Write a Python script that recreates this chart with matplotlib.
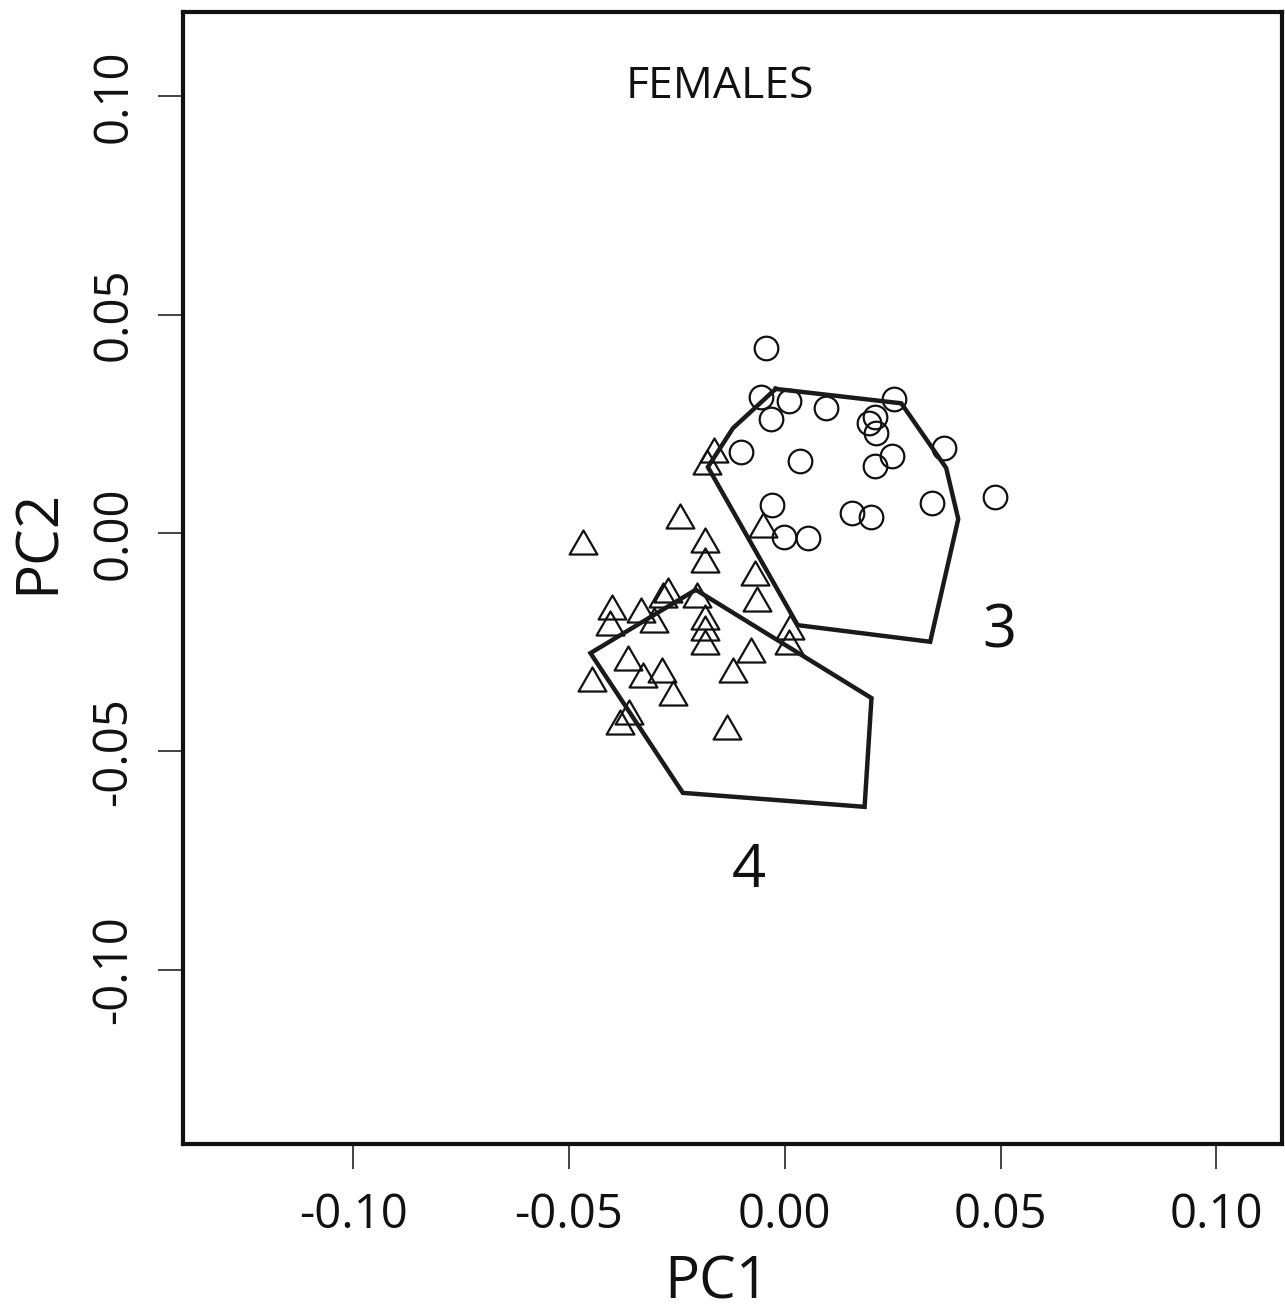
import matplotlib
matplotlib.use("Agg")
import matplotlib.pyplot as plt
from matplotlib.path import Path
import numpy as np

plt.rcParams['font.family'] = ['Open Sans', 'DejaVu Sans']

# Group 3 (circles)
circ_x = [-0.0044, -0.0055, 0.0009, -0.0032, 0.0095, 0.0254, 0.0196, 0.0210, 0.0212,
          -0.0102, 0.0035, 0.0370, 0.0249, 0.0208, 0.0487, 0.0342, -0.0030, 0.0155,
          0.0201, -0.0002, 0.0053]
circ_y = [0.0423, 0.0311, 0.0302, 0.0261, 0.0286, 0.0307, 0.0252, 0.0265, 0.0229,
          0.0185, 0.0165, 0.0195, 0.0176, 0.0153, 0.0082, 0.0069, 0.0064, 0.0046,
          0.0037, -0.0009, -0.0011]

# Group 4 (triangles)
tri_x = [-0.0467, -0.0242, -0.0185, -0.0185, -0.0069, -0.0065, -0.0400, -0.0404,
         -0.0333, -0.0303, -0.0282, -0.0270, -0.0203, -0.0185, -0.0185, -0.0185,
         0.0012, 0.0009, -0.0079, -0.0120, -0.0363, -0.0446, -0.0328, -0.0284,
         -0.0259, -0.0381, -0.0360, -0.0134, -0.0180, -0.0164, -0.0051]
tri_y = [-0.0021, 0.0039, -0.0016, -0.0062, -0.0092, -0.0151, -0.0169, -0.0206,
         -0.0176, -0.0199, -0.0142, -0.0130, -0.0142, -0.0192, -0.0217, -0.0249,
         -0.0215, -0.0249, -0.0268, -0.0314, -0.0286, -0.0334, -0.0325, -0.0314,
         -0.0366, -0.0432, -0.0410, -0.0444, 0.0162, 0.0190, 0.0018]

# Polygons
hull3_x = [-0.0021, 0.0270, 0.0374, 0.0402, 0.0337, 0.0030, -0.0178, -0.0120]
hull3_y = [0.0330, 0.0297, 0.0149, 0.0032, -0.0249, -0.0211, 0.0151, 0.0240]
hull4_x = [-0.0206, 0.0201, 0.0185, -0.0236, -0.0450]
hull4_y = [-0.0130, -0.0378, -0.0627, -0.0595, -0.0275]

ticks = [-0.10, -0.05, 0.00, 0.05, 0.10]
tick_labels = ["-0.10", "-0.05", "0.00", "0.05", "0.10"]

W, H = 1285, 1310
fig = plt.figure(figsize=(W / 100, H / 100), dpi=100)
L, R, T, B = 183, 1282, 12, 1144
ax = fig.add_axes([L / W, (H - B) / H, (R - L) / W, (B - T) / H])
ax.set_xlim(-0.1394, 0.1152)
ax.set_ylim(-0.1399, 0.1193)

tri = Path([(0, 0.866), (-1, -0.866), (1, -0.866), (0, 0.866)],
           [Path.MOVETO, Path.LINETO, Path.LINETO, Path.CLOSEPOLY])

ax.plot(circ_x, circ_y, linestyle='none', marker='o', ms=17, mfc='none',
        mec='#111111', mew=1.6)
ax.plot(tri_x, tri_y, linestyle='none', marker=tri, ms=20, mfc='none',
        mec='#111111', mew=1.6)

for hx, hy in [(hull3_x, hull3_y), (hull4_x, hull4_y)]:
    ax.plot(hx + hx[:1], hy + hy[:1], color='#1a1a1a', lw=3.2,
            solid_joinstyle='miter')

ax.text(0.0497, -0.0261, "3", fontsize=43, ha='center', va='baseline', color='#111111')
ax.text(-0.0083, -0.0811, "4", fontsize=43, ha='center', va='baseline', color='#111111')
ax.text(-0.015, 0.0996, "FEMALES", fontsize=32, ha='center', va='baseline',
        color='#111111')

ax.set_xticks(ticks)
ax.set_xticklabels(tick_labels)
ax.set_yticks(ticks)
ax.set_yticklabels(tick_labels, rotation=90, va='center')
ax.tick_params(axis='both', direction='out', length=18, width=1.1,
               labelsize=34, color='#111111', labelcolor='#111111')
ax.tick_params(axis='x', pad=16)
ax.tick_params(axis='y', pad=15)

for s in ax.spines.values():
    s.set_linewidth(3)
    s.set_color('#111111')

ax.set_xlabel("PC1", fontsize=42, color='#111111', labelpad=11)
ax.set_ylabel("PC2", fontsize=42, color='#111111', labelpad=16)
ax.xaxis.label.set_x((717 - L) / (R - L))
ax.yaxis.label.set_y((B - 541) / (B - T))

fig.savefig("out.png", dpi=100, facecolor='white')
